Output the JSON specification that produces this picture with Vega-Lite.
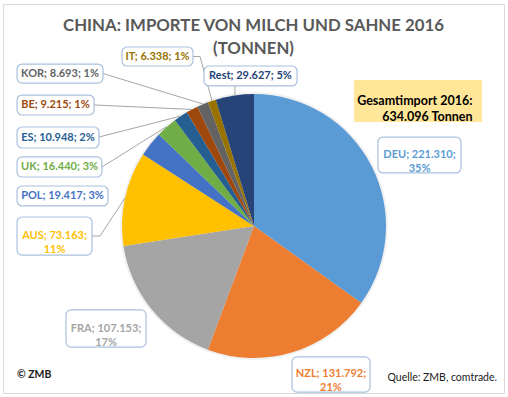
{
  "$schema": "https://vega.github.io/schema/vega-lite/v6.json",
  "width": 501,
  "height": 389,
  "autosize": "none",
  "padding": {"top": 4, "left": 3, "right": 4, "bottom": 4},
  "background": "white",
  "config": {"view": {"stroke": "#D9D9D9", "fill": "white"}, "font": "Lato"},
  "title": {
    "text": ["CHINA: IMPORTE VON MILCH UND SAHNE 2016", "(TONNEN)"],
    "anchor": "middle",
    "frame": "group",
    "font": "Lato",
    "fontSize": 16.8,
    "fontWeight": "bold",
    "color": "#595959",
    "lineHeight": 23.5,
    "offset": -54
  },
  "datasets": {
    "slices": [
      {"country": "DEU", "value": 221310, "order": 1},
      {"country": "NZL", "value": 131792, "order": 2},
      {"country": "FRA", "value": 107153, "order": 3},
      {"country": "AUS", "value": 73163, "order": 4},
      {"country": "POL", "value": 19417, "order": 5},
      {"country": "UK", "value": 16440, "order": 6},
      {"country": "ES", "value": 10948, "order": 7},
      {"country": "BE", "value": 9215, "order": 8},
      {"country": "KOR", "value": 8693, "order": 9},
      {"country": "IT", "value": 6338, "order": 10},
      {"country": "Rest", "value": 29627, "order": 11}
    ],
    "labels": [
      {"country": "DEU", "label": "DEU; 221.310;\n35%", "tx": 1.254, "ty": 0.538, "bx1": 0.939, "bx2": 1.568, "by1": 0.674, "by2": 0.402},
      {"country": "NZL", "label": "NZL; 131.792;\n21%", "tx": 0.583, "ty": -1.125, "bx1": 0.288, "bx2": 0.879, "by1": -0.992, "by2": -1.258},
      {"country": "FRA", "label": "FRA; 107.153;\n17%", "tx": -1.121, "ty": -0.777, "bx1": -1.424, "bx2": -0.818, "by1": -0.636, "by2": -0.917},
      {"country": "AUS", "label": "AUS; 73.163;\n11%", "tx": -1.511, "ty": -0.076, "bx1": -1.795, "bx2": -1.227, "by1": 0.068, "by2": -0.220},
      {"country": "POL", "label": "POL; 19.417; 3%", "tx": -1.451, "ty": 0.227, "bx1": -1.795, "bx2": -1.106, "by1": 0.303, "by2": 0.152},
      {"country": "UK", "label": "UK; 16.440; 3%", "tx": -1.473, "ty": 0.447, "bx1": -1.795, "bx2": -1.152, "by1": 0.523, "by2": 0.371},
      {"country": "ES", "label": "ES; 10.948; 2%", "tx": -1.485, "ty": 0.670, "bx1": -1.795, "bx2": -1.174, "by1": 0.750, "by2": 0.591},
      {"country": "BE", "label": "BE; 9.215; 1%", "tx": -1.504, "ty": 0.917, "bx1": -1.795, "bx2": -1.212, "by1": 0.992, "by2": 0.841},
      {"country": "KOR", "label": "KOR; 8.693; 1%", "tx": -1.470, "ty": 1.155, "bx1": -1.795, "bx2": -1.144, "by1": 1.227, "by2": 1.083},
      {"country": "IT", "label": "IT; 6.338; 1%", "tx": -0.731, "ty": 1.284, "bx1": -1.000, "bx2": -0.462, "by1": 1.356, "by2": 1.212},
      {"country": "Rest", "label": "Rest; 29.627; 5%", "tx": -0.027, "ty": 1.136, "bx1": -0.379, "bx2": 0.326, "by1": 1.212, "by2": 1.061}
    ],
    "leaders": [
      {"country": "IT", "x1": -0.462, "y1": 1.284, "x2": -0.409, "y2": 1.284},
      {"country": "IT", "x1": -0.409, "y1": 1.284, "x2": -0.318, "y2": 0.947},
      {"country": "KOR", "x1": -1.144, "y1": 1.155, "x2": -0.386, "y2": 0.924},
      {"country": "Rest", "x1": -0.144, "y1": 1.061, "x2": -0.144, "y2": 0.989},
      {"country": "BE", "x1": -1.212, "y1": 0.917, "x2": -0.470, "y2": 0.883},
      {"country": "ES", "x1": -1.174, "y1": 0.674, "x2": -0.553, "y2": 0.833},
      {"country": "UK", "x1": -1.152, "y1": 0.447, "x2": -0.667, "y2": 0.750},
      {"country": "AUS", "x1": -1.227, "y1": -0.076, "x2": -1.167, "y2": -0.076},
      {"country": "AUS", "x1": -1.167, "y1": -0.076, "x2": -0.977, "y2": 0.212}
    ],
    "totalbox": [
      {"x1": 0.758, "x2": 1.727, "y1": 1.106, "y2": 0.788}
    ],
    "notes": [
      {"key": "total", "text": "Gesamtimport 2016:\n634.096  Tonnen", "tx": 1.655, "ty": 0.947},
      {"key": "zmb", "text": "© ZMB", "tx": -1.795, "ty": -1.129},
      {"key": "src", "text": "Quelle: ZMB, comtrade.", "tx": 1.841, "ty": -1.152}
    ]
  },
  "layer": [
    {
      "data": {"name": "slices"},
      "mark": {"type": "arc", "outerRadius": 134, "fill": "#000000", "opacity": 0.06},
      "encoding": {
        "theta": {"field": "value", "type": "quantitative", "aggregate": "sum"},
        "x": {"datum": 0, "type": "quantitative", "scale": {"domain": [-1.9015, 1.8939], "nice": false, "zero": false}, "axis": null},
        "y": {"datum": 0, "type": "quantitative", "scale": {"domain": [-1.2652, 1.6818], "nice": false, "zero": false}, "axis": null}
      }
    },
    {
      "data": {"name": "slices"},
      "mark": {"type": "arc", "outerRadius": 132},
      "encoding": {
        "theta": {"field": "value", "type": "quantitative", "stack": true},
        "order": {"field": "order", "type": "quantitative"},
        "x": {"datum": 0, "type": "quantitative", "scale": {"domain": [-1.9015, 1.8939], "nice": false, "zero": false}, "axis": null},
        "y": {"datum": 0, "type": "quantitative", "scale": {"domain": [-1.2652, 1.6818], "nice": false, "zero": false}, "axis": null},
        "color": {
          "field": "country",
          "type": "nominal",
          "scale": {
            "domain": ["DEU", "NZL", "FRA", "AUS", "POL", "UK", "ES", "BE", "KOR", "IT", "Rest"],
            "range": ["#5B9BD5", "#ED7D31", "#A5A5A5", "#FFC000", "#4472C4", "#70AD47", "#255E91", "#9E480E", "#636363", "#997300", "#264478"]
          },
          "legend": null
        }
      }
    },
    {
      "data": {"name": "leaders"},
      "mark": {"type": "rule", "color": "#A6A6A6", "strokeWidth": 1},
      "encoding": {
        "x": {"field": "x1", "type": "quantitative", "scale": {"domain": [-1.9015, 1.8939], "nice": false, "zero": false}, "axis": null},
        "x2": {"field": "x2"},
        "y": {"field": "y1", "type": "quantitative", "scale": {"domain": [-1.2652, 1.6818], "nice": false, "zero": false}, "axis": null},
        "y2": {"field": "y2"}
      }
    },
    {
      "data": {"name": "labels"},
      "mark": {"type": "rect", "fill": "white", "stroke": "#A9C1DC", "strokeWidth": 1.2, "cornerRadius": 5},
      "encoding": {
        "x": {"field": "bx1", "type": "quantitative", "scale": {"domain": [-1.9015, 1.8939], "nice": false, "zero": false}, "axis": null},
        "x2": {"field": "bx2"},
        "y": {"field": "by1", "type": "quantitative", "scale": {"domain": [-1.2652, 1.6818], "nice": false, "zero": false}, "axis": null},
        "y2": {"field": "by2"}
      }
    },
    {
      "data": {"name": "labels"},
      "mark": {"type": "text", "font": "Lato", "fontSize": 11, "fontWeight": "bold", "align": "center", "baseline": "middle", "lineBreak": "\n", "lineHeight": 14},
      "encoding": {
        "x": {"field": "tx", "type": "quantitative", "scale": {"domain": [-1.9015, 1.8939], "nice": false, "zero": false}, "axis": null},
        "y": {"field": "ty", "type": "quantitative", "scale": {"domain": [-1.2652, 1.6818], "nice": false, "zero": false}, "axis": null},
        "text": {"field": "label"},
        "color": {"field": "country", "type": "nominal", "legend": null}
      }
    },
    {
      "data": {"name": "totalbox"},
      "mark": {"type": "rect", "fill": "#FFE699"},
      "encoding": {
        "x": {"field": "x1", "type": "quantitative", "scale": {"domain": [-1.9015, 1.8939], "nice": false, "zero": false}, "axis": null},
        "x2": {"field": "x2"},
        "y": {"field": "y1", "type": "quantitative", "scale": {"domain": [-1.2652, 1.6818], "nice": false, "zero": false}, "axis": null},
        "y2": {"field": "y2"}
      }
    },
    {
      "data": {"name": "notes"},
      "transform": [{"filter": "datum.key === 'total'"}],
      "mark": {"type": "text", "font": "Lato", "fontSize": 12.5, "fontWeight": "bold", "align": "right", "baseline": "middle", "lineBreak": "\n", "lineHeight": 16, "color": "#000000"},
      "encoding": {
        "x": {"field": "tx", "type": "quantitative", "scale": {"domain": [-1.9015, 1.8939], "nice": false, "zero": false}, "axis": null},
        "y": {"field": "ty", "type": "quantitative", "scale": {"domain": [-1.2652, 1.6818], "nice": false, "zero": false}, "axis": null},
        "text": {"field": "text"}
      }
    },
    {
      "data": {"name": "notes"},
      "transform": [{"filter": "datum.key === 'zmb'"}],
      "mark": {"type": "text", "font": "Lato", "fontSize": 10.5, "fontWeight": "bold", "align": "left", "baseline": "middle", "color": "#1A1A1A"},
      "encoding": {
        "x": {"field": "tx", "type": "quantitative", "scale": {"domain": [-1.9015, 1.8939], "nice": false, "zero": false}, "axis": null},
        "y": {"field": "ty", "type": "quantitative", "scale": {"domain": [-1.2652, 1.6818], "nice": false, "zero": false}, "axis": null},
        "text": {"field": "text"}
      }
    },
    {
      "data": {"name": "notes"},
      "transform": [{"filter": "datum.key === 'src'"}],
      "mark": {"type": "text", "font": "Lato", "fontSize": 10.5, "align": "right", "baseline": "middle", "color": "#1A1A1A"},
      "encoding": {
        "x": {"field": "tx", "type": "quantitative", "scale": {"domain": [-1.9015, 1.8939], "nice": false, "zero": false}, "axis": null},
        "y": {"field": "ty", "type": "quantitative", "scale": {"domain": [-1.2652, 1.6818], "nice": false, "zero": false}, "axis": null},
        "text": {"field": "text"}
      }
    }
  ]
}
